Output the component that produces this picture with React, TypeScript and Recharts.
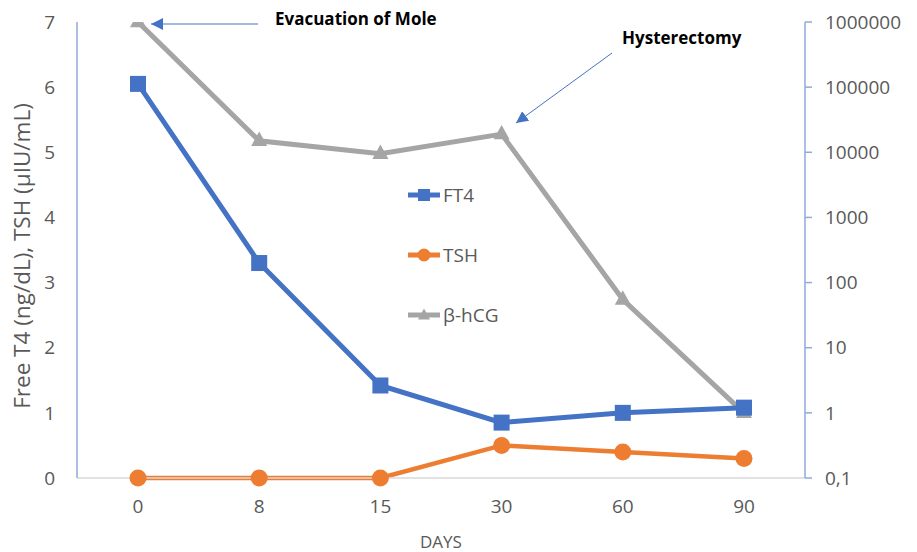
import React from "react";
import {
  LineChart,
  Line,
  XAxis,
  YAxis,
} from "recharts";

// Values
const DAYS = ["0", "8", "15", "30", "60", "90"];
const FT4 = [6.05, 3.3, 1.42, 0.85, 1.0, 1.08];
const TSH = [0, 0, 0, 0.5, 0.4, 0.3];
const HCG = [1000000, 15000, 9500, 19000, 55, 1];

const LEFT_TICKS = [0, 1, 2, 3, 4, 5, 6, 7];
const RIGHT_TICKS = [0.1, 1, 10, 100, 1000, 10000, 100000, 1000000];

const BLUE = "#4472C4";
const ORANGE = "#ED7D31";
const GREY = "#A5A5A5";
const AXIS_BLUE = "#8FAADC";
const TEXT = "#595959";
const FONT = "'Open Sans', sans-serif";

const data = DAYS.map((day, i) => ({
  day,
  ft4: FT4[i],
  tsh: TSH[i],
  hcg: HCG[i],
}));

const SERIES = [
  { key: "ft4", name: "FT4", color: BLUE, shape: "square" },
  { key: "tsh", name: "TSH", color: ORANGE, shape: "circle" },
  { key: "hcg", name: "β-hCG", color: GREY, shape: "triangle" },
];

function Marker({ cx, cy, shape, color, size = 8 }: any) {
  if (cx == null || cy == null) return null;
  if (shape === "square") {
    return <rect x={cx - size} y={cy - size} width={size * 2} height={size * 2} fill={color} />;
  }
  if (shape === "circle") {
    return <circle cx={cx} cy={cy} r={size + 0.5} fill={color} />;
  }
  const h = size * 1.8;
  return (
    <polygon
      points={`${cx},${cy - h / 2 - 2} ${cx - size},${cy + h / 2 - 2} ${cx + size},${cy + h / 2 - 2}`}
      fill={color}
    />
  );
}

function dotFor(shape: string, color: string) {
  return (props: any) => (
    <Marker key={props.index} cx={props.cx} cy={props.cy} shape={shape} color={color} />
  );
}

// legend sits in the middle of the plot, drawn outside recharts so it takes no space
function ChartLegend() {
  return (
    <div
      style={{
        position: "absolute",
        left: 406,
        top: 165,
        fontFamily: FONT,
        fontSize: 19,
        color: TEXT,
      }}
    >
      {SERIES.map((s) => (
        <div key={s.key} style={{ display: "flex", alignItems: "center", height: 60 }}>
          <svg width={36} height={20}>
            <line x1={2} y1={10} x2={34} y2={10} stroke={s.color} strokeWidth={5} />
            <Marker cx={18} cy={s.shape === "triangle" ? 11 : 10} shape={s.shape} color={s.color} size={6} />
          </svg>
          <span style={{ marginLeft: 1 }}>{s.name}</span>
        </div>
      ))}
    </div>
  );
}

function formatLog(v: number) {
  return v < 1 ? String(v).replace(".", ",") : String(v);
}

function YLabel({ viewBox }: any) {
  const x = 21;
  const y = viewBox.y + viewBox.height / 2 + 6;
  return (
    <text
      x={x}
      y={y}
      transform={`rotate(-90, ${x}, ${y})`}
      textAnchor="middle"
      dominantBaseline="central"
      fontFamily={FONT}
      fontSize={22.5}
      fill={TEXT}
    >
      Free T4 (ng/dL), TSH (µIU/mL)
    </text>
  );
}

export default function App() {
  return (
    <div style={{ position: "absolute", left: 0, top: 0, width: 917, height: 552, background: "#fff" }}>
      <LineChart
        width={917}
        height={552}
        data={data}
        margin={{ top: 22, right: 0, bottom: 0, left: 0 }}
      >
        <XAxis
          dataKey="day"
          height={74}
          padding={{ left: 61, right: 61 }}
          axisLine={{ stroke: "#D9D9D9", strokeWidth: 1.5 }}
          tickLine={false}
          tickMargin={16}
          tick={{ fill: TEXT, fontSize: 19, fontFamily: FONT }}
          label={{
            value: "DAYS",
            position: "insideBottom",
            offset: 4,
            fill: TEXT,
            fontSize: 17,
            fontFamily: FONT,
          }}
        />
        <YAxis
          yAxisId="left"
          width={77}
          domain={[0, 7]}
          ticks={LEFT_TICKS}
          axisLine={{ stroke: AXIS_BLUE, strokeWidth: 1.5 }}
          tickLine={false}
          tickMargin={16}
          tick={{ fill: TEXT, fontSize: 19, fontFamily: FONT }}
          label={<YLabel />}
        />
        <YAxis
          yAxisId="right"
          orientation="right"
          width={112}
          scale="log"
          domain={[0.1, 1000000]}
          ticks={RIGHT_TICKS}
          allowDataOverflow
          tickFormatter={formatLog}
          axisLine={{ stroke: AXIS_BLUE, strokeWidth: 1.5 }}
          tickLine={{ stroke: AXIS_BLUE, strokeWidth: 1.5 }}
          tickSize={7}
          tickMargin={13}
          tick={{ fill: TEXT, fontSize: 19, fontFamily: FONT }}
        />
        <Line
          yAxisId="right"
          dataKey="hcg"
          name="β-hCG"
          stroke={GREY}
          strokeWidth={5}
          dot={dotFor("triangle", GREY)}
          activeDot={false}
          isAnimationActive={false}
        />
        <Line
          yAxisId="left"
          dataKey="tsh"
          name="TSH"
          stroke={ORANGE}
          strokeWidth={4.5}
          dot={dotFor("circle", ORANGE)}
          activeDot={false}
          isAnimationActive={false}
        />
        <Line
          yAxisId="left"
          dataKey="ft4"
          name="FT4"
          stroke={BLUE}
          strokeWidth={5}
          dot={dotFor("square", BLUE)}
          activeDot={false}
          isAnimationActive={false}
        />
      </LineChart>
      <ChartLegend />
      <svg
        width={917}
        height={552}
        style={{ position: "absolute", left: 0, top: 0, pointerEvents: "none" }}
      >
        <defs>
          <marker id="arrow" viewBox="0 0 10 10" refX={10} refY={5} markerWidth={12} markerHeight={12} markerUnits="userSpaceOnUse" orient="auto">
            <path d="M0,0 L10,5 L0,10 z" fill={BLUE} />
          </marker>
        </defs>
        <line x1={258} y1={24} x2={151} y2={24} stroke={BLUE} strokeWidth={1} markerEnd="url(#arrow)" />
        <text x={275} y={18} dominantBaseline="central" fontFamily={FONT} fontWeight="bold" fontSize={17} fill="#000">
          Evacuation of Mole
        </text>
        <line x1={612} y1={53} x2={516} y2={123} stroke={BLUE} strokeWidth={1} markerEnd="url(#arrow)" />
        <text x={622} y={37} dominantBaseline="central" fontFamily={FONT} fontWeight="bold" fontSize={17} fill="#000">
          Hysterectomy
        </text>
      </svg>
    </div>
  );
}
